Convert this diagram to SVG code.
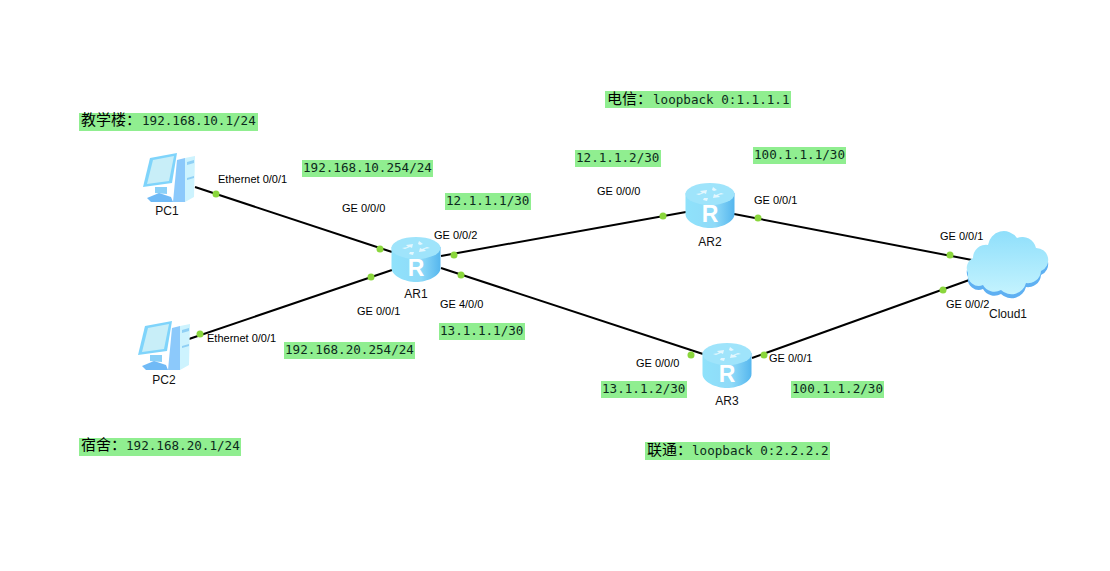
<svg xmlns="http://www.w3.org/2000/svg" width="1110" height="571" viewBox="0 0 1110 571">
<style>
.t{font-family:"Liberation Sans",Arial,sans-serif;font-size:11px;fill:#000}
.n{font-family:"Liberation Sans",Arial,sans-serif;font-size:12px;fill:#111}
.bg{fill:#90ee90}
.m{font-family:"DejaVu Sans Mono","Liberation Mono","Noto Sans CJK SC",monospace;font-size:12.6px;fill:#0c2a1c}
.c{font-family:"Noto Sans CJK SC",sans-serif;font-size:15px;fill:#000}
.l{stroke:#000;stroke-width:2;fill:none}
.d{fill:#8ad63c}
</style>
<defs>
<linearGradient id="rt" x1="0" y1="0" x2="1" y2="0"><stop offset="0" stop-color="#8fe2fb"/><stop offset="0.6" stop-color="#8fdaf8"/><stop offset="1" stop-color="#55b6ee"/></linearGradient>
<linearGradient id="cl" x1="0" y1="0" x2="0" y2="1"><stop offset="0" stop-color="#8fdffb"/><stop offset="1" stop-color="#c4f3fe"/></linearGradient>
<path id="cloudshape" d="M968 273A11 11 0 0 1 973 258A13 13 0 0 1 988 245A16 16 0 0 1 1017 238A14 14 0 0 1 1036 248A12 12 0 0 1 1041 271A13 13 0 0 1 1026 283A15 15 0 0 1 1001 290A13 13 0 0 1 983 285A11 11 0 0 1 968 273Z"/>
<g id="router">
<path d="M-24.500-12V9C-24.500 17-11 23 0 23S24.500 17 24.500 9V-12Z" fill="url(#rt)"/>
<ellipse cx="0" cy="-11" rx="24.500" ry="11" fill="#9fe4fb"/>
<path d="M-14-11l6-1-2-2 7-1-1 4-2-1-5 2zM14-11l-6 1 2 2-7 1 1-4 2 1 5-2zM-2-7l-1 3-4-1 1-2zM3-18l4 3-3 1-2-1z" fill="#e4f7fe"/>
<text x="0" y="17" text-anchor="middle" font-family="Liberation Sans,sans-serif" font-weight="bold" font-size="23" fill="#fff">R</text>
</g>
<g id="pc">
<path d="M10-19L18-21 18 23 6 23Z" fill="#8cc9fb"/>
<path d="M18-21L28-23 27 18 18 23Z" fill="#cdf3fe"/>
<path d="M20-17L27-19 27-16 20-14ZM20-1L27-3 27-1 20 1Z" fill="#8fd0f5"/>
<path d="M-12 8L0 8 0 15-12 14Z" fill="#8ad0f8"/>
<path d="M-20 19L-8 14 4 18 6 23-16 23Z" fill="#70baf6"/>
<path d="M-17-21L10-26 5 4-24 8Z" fill="#7fd4fb"/>
<path d="M-14-19L7-23 2 2-20 5Z" fill="#c8eef8"/>
</g>
</defs>
<g id="connectors">
<path class="l" d="M195 187L392 252"/>
<path class="l" d="M189 339L392 270"/>
<path class="l" d="M441 256L686 212"/>
<path class="l" d="M441 268L703 354"/>
<path class="l" d="M734 214L972 260"/>
<path class="l" d="M752 358L972 279"/>
<g class="d">
<circle cx="216" cy="194" r="3.500"/><circle cx="380" cy="249" r="3.500"/>
<circle cx="200" cy="334" r="3.500"/><circle cx="371" cy="277" r="3.500"/>
<circle cx="454" cy="255" r="3.500"/><circle cx="663" cy="216" r="3.500"/>
<circle cx="461" cy="275" r="3.500"/><circle cx="691" cy="355" r="3.500"/>
<circle cx="758" cy="218" r="3.500"/><circle cx="950" cy="255" r="3.500"/>
<circle cx="764" cy="355" r="3.500"/><circle cx="943" cy="290" r="3.500"/>
</g>
</g>
<g id="PC1"><use href="#pc" x="167" y="179"/><text class="n" x="167" y="215" text-anchor="middle">PC1</text></g>
<g id="PC2"><use href="#pc" x="162" y="347"/><text class="n" x="164" y="384" text-anchor="middle">PC2</text></g>
<g id="AR1"><use href="#router" x="416" y="259"/><text class="n" x="416" y="298" text-anchor="middle">AR1</text></g>
<g id="AR2"><use href="#router" x="710" y="205"/><text class="n" x="710" y="246" text-anchor="middle">AR2</text></g>
<g id="AR3"><use href="#router" x="727" y="365"/><text class="n" x="727" y="405" text-anchor="middle">AR3</text></g>
<g id="Cloud1">
<use href="#cloudshape" fill="#5fb0f2" transform="translate(0,4)"/>
<use href="#cloudshape" fill="url(#cl)"/>
<text class="n" x="1008" y="318" text-anchor="middle">Cloud1</text>
</g>
<g id="port-labels">
<text class="t" x="218" y="183">Ethernet 0/0/1</text>
<text class="t" x="342" y="212">GE 0/0/0</text>
<text class="t" x="434" y="239">GE 0/0/2</text>
<text class="t" x="357" y="315">GE 0/0/1</text>
<text class="t" x="440" y="308">GE 4/0/0</text>
<text class="t" x="207" y="342">Ethernet 0/0/1</text>
<text class="t" x="597" y="195">GE 0/0/0</text>
<text class="t" x="754" y="204">GE 0/0/1</text>
<text class="t" x="940" y="240">GE 0/0/1</text>
<text class="t" x="946" y="308">GE 0/0/2</text>
<text class="t" x="636" y="367">GE 0/0/0</text>
<text class="t" x="769" y="362">GE 0/0/1</text>
</g>
<g id="ip-labels">
<rect class="bg" x="79" y="113" width="179" height="18"/><text class="c" x="81" y="125">教学楼：</text><text class="m" x="142" y="125">192.168.10.1/24</text>
<rect class="bg" x="302" y="160" width="131" height="17"/><text class="m" x="303" y="172">192.168.10.254/24</text>
<rect class="bg" x="445" y="193" width="86" height="17"/><text class="m" x="446" y="205">12.1.1.1/30</text>
<rect class="bg" x="605" y="91" width="186" height="17"/><text class="c" x="607" y="104">电信：</text><text class="m" x="653" y="104">loopback 0:1.1.1.1</text>
<rect class="bg" x="575" y="150" width="86" height="17"/><text class="m" x="576" y="162">12.1.1.2/30</text>
<rect class="bg" x="753" y="147" width="93" height="17"/><text class="m" x="754" y="159">100.1.1.1/30</text>
<rect class="bg" x="284" y="342" width="131" height="17"/><text class="m" x="285" y="354">192.168.20.254/24</text>
<rect class="bg" x="439" y="323" width="86" height="17"/><text class="m" x="440" y="335">13.1.1.1/30</text>
<rect class="bg" x="601" y="381" width="86" height="17"/><text class="m" x="602" y="393">13.1.1.2/30</text>
<rect class="bg" x="791" y="381" width="93" height="17"/><text class="m" x="792" y="393">100.1.1.2/30</text>
<rect class="bg" x="79" y="438" width="162" height="18"/><text class="c" x="81" y="450">宿舍：</text><text class="m" x="126" y="450">192.168.20.1/24</text>
<rect class="bg" x="645" y="442" width="185" height="18"/><text class="c" x="647" y="455">联通：</text><text class="m" x="692" y="455">loopback 0:2.2.2.2</text>
</g>
</svg>
